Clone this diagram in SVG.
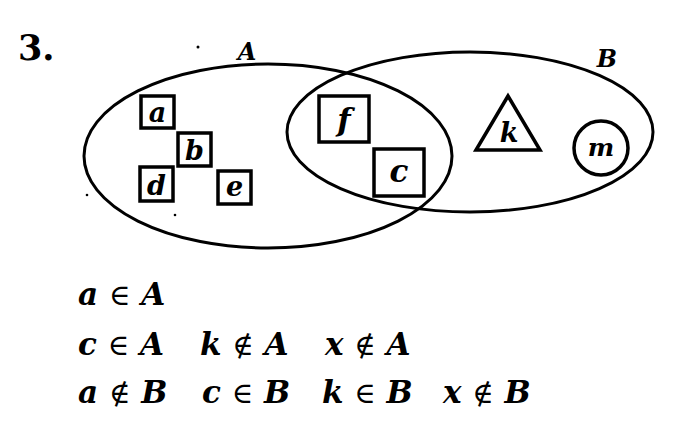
<svg xmlns="http://www.w3.org/2000/svg" width="700" height="435" viewBox="0 0 700 435">
<style>
.set{fill:none;stroke:#000;stroke-width:3}
.box{fill:#fff;fill-opacity:0;stroke:#000;stroke-width:3.5}
.el{font-family:"DejaVu Serif",serif;font-style:italic;font-weight:bold;fill:#000;text-anchor:middle}
.st{font-family:"DejaVu Serif",serif;font-style:italic;font-weight:bold;font-size:31px;fill:#000}
.sym{font-family:"DejaVu Serif",serif;font-style:normal;font-weight:normal;font-size:29px}
</style>
<rect width="700" height="435" fill="#fff"/>
<text x="18" y="60" font-family="DejaVu Serif,serif" font-weight="bold" font-size="35">3.</text>
<g id="setA">
<ellipse class="set" cx="268" cy="156" rx="184" ry="92"/>
<text class="el" x="247" y="60" font-size="24">A</text>
</g>
<g id="setB">
<ellipse class="set" cx="470" cy="132" rx="183" ry="80"/>
<text class="el" x="607" y="67" font-size="24">B</text>
</g>
<g id="a"><rect class="box" x="141" y="96" width="33" height="32"/><text class="el" x="157.5" y="122" font-size="27">a</text></g>
<g id="b"><rect class="box" x="178" y="133" width="33" height="33"/><text class="el" x="194.5" y="160" font-size="27">b</text></g>
<g id="d"><rect class="box" x="140" y="167" width="33" height="34"/><text class="el" x="156.5" y="195" font-size="27">d</text></g>
<g id="e"><rect class="box" x="218" y="171" width="33" height="33"/><text class="el" x="234.5" y="196" font-size="27">e</text></g>
<g id="f"><rect class="box" x="319" y="96" width="50" height="46"/><text class="el" x="344" y="131" font-size="31">f</text></g>
<g id="c"><rect class="box" x="374" y="149" width="50" height="47"/><text class="el" x="399" y="182" font-size="31">c</text></g>
<g id="k"><polygon class="box" points="508,96 476,150 540,150"/><text class="el" x="509" y="142" font-size="27">k</text></g>
<g id="m"><circle class="box" cx="601" cy="148" r="27"/><text class="el" x="601" y="156" font-size="25">m</text></g>
<g id="specks" fill="#000">
<circle cx="198" cy="47" r="1.5"/><circle cx="87" cy="195" r="1.3"/><circle cx="175" cy="215" r="1.3"/>
</g>
<g id="statements">
<text class="st" x="78" y="305">a <tspan class="sym">∈</tspan> A</text>
<text class="st" x="78" y="355">c <tspan class="sym">∈</tspan> A</text>
<text class="st" x="200" y="355">k <tspan class="sym">∉</tspan> A</text>
<text class="st" x="325" y="355">x <tspan class="sym">∉</tspan> A</text>
<text class="st" x="78" y="403">a <tspan class="sym">∉</tspan> B</text>
<text class="st" x="202" y="403">c <tspan class="sym">∈</tspan> B</text>
<text class="st" x="322" y="403">k <tspan class="sym">∈</tspan> B</text>
<text class="st" x="443" y="403">x <tspan class="sym">∉</tspan> B</text>
</g>
</svg>
